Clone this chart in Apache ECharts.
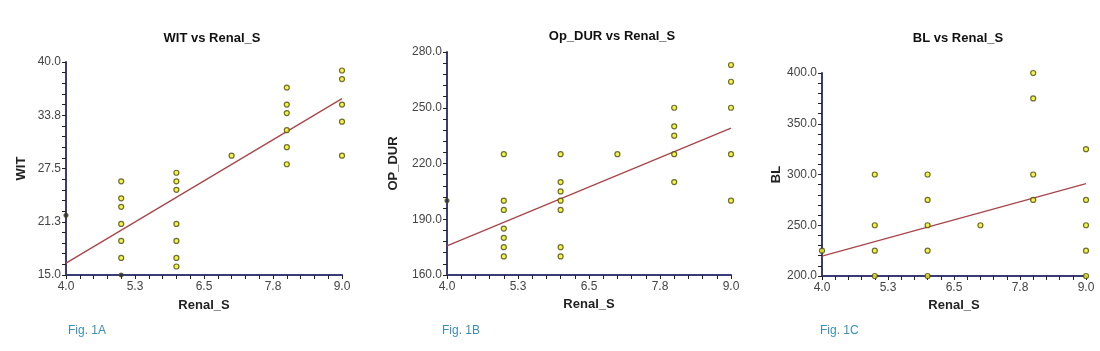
<!DOCTYPE html>
<html>
<head>
<meta charset="utf-8">
<script src="https://cdn.jsdelivr.net/npm/echarts@6/dist/echarts.min.js"></script>
<style>
  html, body { margin: 0; padding: 0; background: #fff; }
  #chart { width: 1100px; height: 351px; }
</style>
</head>
<body>
<div id="chart"></div>
<script>
// Renal_S on x for all three panels
const renalTicks = ["4.0", "5.3", "6.5", "7.8", "9.0"];

// Fig. 1A  WIT vs Renal_S
const witPoints = [
  [5, 26], [5, 24], [5, 23], [5, 21], [5, 19], [5, 17],
  [6, 27], [6, 26], [6, 25], [6, 21], [6, 19], [6, 17], [6, 16],
  [7, 29],
  [8, 37], [8, 35], [8, 34], [8, 32], [8, 30], [8, 28],
  [9, 39], [9, 38], [9, 35], [9, 33], [9, 29]
];
const witEdge = [[4, 22], [5, 15]];
const witFit = [[4, 16.4], [9, 35.7]];
const witTicks = ["15.0", "21.3", "27.5", "33.8", "40.0"];

// Fig. 1B  Op_DUR vs Renal_S
const durPoints = [
  [5, 225], [5, 200], [5, 195], [5, 185], [5, 180], [5, 175], [5, 170],
  [6, 225], [6, 210], [6, 205], [6, 200], [6, 195], [6, 175], [6, 170],
  [7, 225],
  [8, 250], [8, 240], [8, 235], [8, 225], [8, 210],
  [9, 273], [9, 264], [9, 250], [9, 225], [9, 200]
];
const durEdge = [[4, 200]];
const durFit = [[4, 175.7], [9, 239]];
const durTicks = ["160.0", "190.0", "220.0", "250.0", "280.0"];

// Fig. 1C  BL vs Renal_S
const blPoints = [
  [4, 225],
  [5, 300], [5, 250], [5, 225], [5, 200],
  [6, 300], [6, 275], [6, 250], [6, 225], [6, 200],
  [7, 250],
  [8, 400], [8, 375], [8, 300], [8, 275],
  [9, 325], [9, 275], [9, 250], [9, 225], [9, 200]
];
const blFit = [[4, 219.7], [9, 291]];
const blTicks = ["200.0", "250.0", "300.0", "350.0", "400.0"];

const font = "Liberation Sans, Arial, sans-serif";
const axisColor = "#3b3b78";

function xAxisFor(gridIndex, nameGap) {
  return {
    gridIndex: gridIndex,
    type: "value",
    min: 4, max: 9, interval: 1.25,
    name: "Renal_S",
    nameLocation: "middle",
    nameGap: nameGap,
    nameTextStyle: { fontFamily: font, fontWeight: "bold", fontSize: 13, color: "#222", verticalAlign: "middle" },
    axisLine: { lineStyle: { color: axisColor, width: 2 } },
    axisTick: { length: 4, lineStyle: { color: "#222" } },
    minorTick: { show: true, splitNumber: 5, length: 4, lineStyle: { color: "#222" } },
    axisLabel: {
      fontFamily: font, fontSize: 12, color: "#444", margin: 6,
      formatter: (v, i) => renalTicks[i]
    },
    splitLine: { show: false }
  };
}

function yAxisFor(gridIndex, name, min, max, interval, ticks, nameGap) {
  return {
    gridIndex: gridIndex,
    type: "value",
    min: min, max: max, interval: interval,
    name: name,
    nameLocation: "middle",
    nameGap: nameGap,
    nameTextStyle: { fontFamily: font, fontWeight: "bold", fontSize: 13, color: "#222", verticalAlign: "middle" },
    axisLine: { show: true, lineStyle: { color: axisColor, width: 2 } },
    axisTick: { show: true, length: 4, lineStyle: { color: "#222" } },
    minorTick: { show: true, splitNumber: 5, length: 4, lineStyle: { color: "#222" } },
    axisLabel: {
      fontFamily: font, fontSize: 12, color: "#444", margin: 5,
      formatter: (v, i) => ticks[i]
    },
    splitLine: { show: false }
  };
}

function dots(i, data, fill, size) {
  return {
    type: "scatter",
    xAxisIndex: i, yAxisIndex: i,
    data: data,
    symbol: "circle",
    symbolSize: size,
    clip: false,
    itemStyle: { color: fill, borderColor: "#4a4a10", borderWidth: 1.2 },
    z: 3
  };
}

function fit(i, data) {
  return {
    type: "line",
    xAxisIndex: i, yAxisIndex: i,
    data: data,
    symbol: "none",
    lineStyle: { color: "#a8454a", width: 1.3 },
    z: 2
  };
}

const chart = echarts.init(document.getElementById("chart"));

const option = {
  backgroundColor: "#fff",
  animation: false,
  title: [
    { text: "WIT vs Renal_S", left: 207, top: 27, textAlign: "center",
      textStyle: { fontFamily: font, fontSize: 13, fontWeight: "bold", color: "#111" } },
    { text: "Op_DUR vs Renal_S", left: 607, top: 25, textAlign: "center",
      textStyle: { fontFamily: font, fontSize: 13, fontWeight: "bold", color: "#111" } },
    { text: "BL vs Renal_S", left: 953, top: 27, textAlign: "center",
      textStyle: { fontFamily: font, fontSize: 13, fontWeight: "bold", color: "#111" } },
    { text: "Fig. 1A", left: 63, top: 320,
      textStyle: { fontFamily: font, fontSize: 12, fontWeight: "normal", color: "#3b8db3" } },
    { text: "Fig. 1B", left: 437, top: 320,
      textStyle: { fontFamily: font, fontSize: 12, fontWeight: "normal", color: "#3b8db3" } },
    { text: "Fig. 1C", left: 815, top: 320,
      textStyle: { fontFamily: font, fontSize: 12, fontWeight: "normal", color: "#3b8db3" } }
  ],
  grid: [
    { left: 66, top: 62, width: 276, height: 213 },
    { left: 447, top: 52, width: 284, height: 223 },
    { left: 822, top: 73, width: 264, height: 203 }
  ],
  xAxis: [
    xAxisFor(0, 30),
    xAxisFor(1, 21),
    xAxisFor(2, 26)
  ],
  yAxis: [
    yAxisFor(0, "WIT", 15, 40, 6.25, witTicks, 45),
    yAxisFor(1, "OP_DUR", 160, 280, 30, durTicks, 54),
    yAxisFor(2, "BL", 200, 400, 50, blTicks, 45)
  ],
  series: [
    fit(0, witFit),
    dots(0, witPoints, "#f2f21a", 5),
    dots(0, witEdge, "#2b2b55", 4),
    fit(1, durFit),
    dots(1, durPoints, "#f2f21a", 5),
    dots(1, durEdge, "#2b2b55", 4),
    fit(2, blFit),
    dots(2, blPoints, "#f2f21a", 5)
  ]
};

chart.setOption(option);
</script>
</body>
</html>
